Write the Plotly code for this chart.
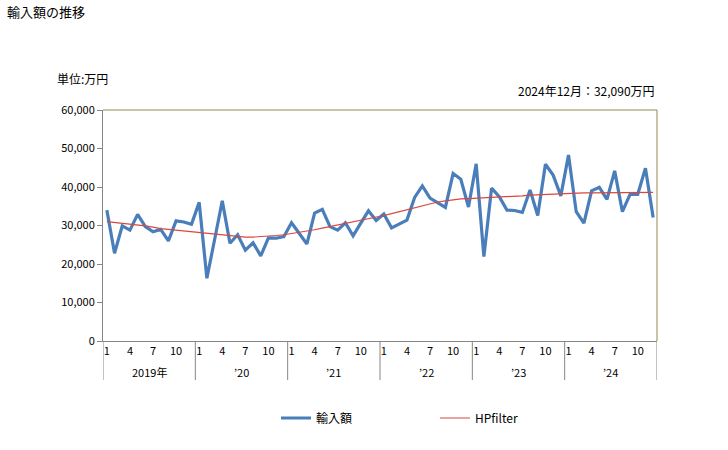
import plotly.graph_objects as go

# ---- data (万円) ----
years = ["2019年", "’20", "’21", "’22", "’23", "’24"]
months = list(range(1, 13))
month_tick_labels = ["1", "4", "7", "10"]

imports = [
    34000, 22800, 29900, 28800, 32900, 29700, 28400, 29000, 26000, 31200, 30900, 30300,
    36000, 16300, 26300, 36400, 25400, 27600, 23600, 25500, 22100, 26800, 26700, 27100,
    30700, 28000, 25200, 33200, 34200, 29700, 28800, 30700, 27300, 30600, 33800, 31300,
    33000, 29400, 30400, 31400, 37300, 40300, 37100, 35900, 34700, 43500, 42000, 34800,
    46000, 21900, 39700, 37500, 34000, 33900, 33400, 39200, 32600, 45900, 43100, 37700,
    48300, 33600, 30600, 39000, 39900, 36800, 44200, 33600, 38100, 38100, 44900, 32090,
]

hp_trend = [
    31000, 30800, 30600, 30400, 30100, 29900, 29600, 29200, 29000, 28800, 28600, 28300,
    28100, 27900, 27700, 27500, 27300, 27100, 27000, 27000, 27100, 27200, 27400, 27600,
    27900, 28200, 28500, 28900, 29300, 29700, 30100, 30500, 30900, 31300, 31700, 32100,
    32600, 33100, 33600, 34200, 34700, 35200, 35700, 36100, 36400, 36700, 36900, 37000,
    37100, 37100, 37200, 37300, 37500, 37600, 37700, 37900, 38000, 38100, 38200, 38300,
    38400, 38400, 38500, 38500, 38500, 38600, 38600, 38600, 38600, 38600, 38600, 38600,
]

n = len(imports)
xs = list(range(n))

FONT = "Noto Sans CJK JP"
AXIS_GRAY = "#868686"
FRAME = "#8E8A4C"

# plot area in page pixels
PL, PR, PT, PB = 103, 657, 110, 341
PW, PH = PR - PL, PB - PT


def px(x):
    return (x - PL) / PW


def py(y):
    return (PB - y) / PH


fig = go.Figure()
fig.add_trace(go.Scatter(
    x=xs, y=imports, mode="lines", name="輸入額",
    line=dict(color="#4A7EBB", width=3.2),
))
fig.add_trace(go.Scatter(
    x=xs, y=hp_trend, mode="lines", name="HPfilter",
    line=dict(color="#D9473F", width=1.2),
))

tickvals = [i for i in xs if months[i % 12] in (1, 4, 7, 10)]
ticktext = [str(months[i % 12]) for i in tickvals]

fig.update_xaxes(
    range=[-0.5, n - 0.5], tickvals=tickvals, ticktext=ticktext,
    showgrid=False, zeroline=False, showline=True, linecolor=AXIS_GRAY, linewidth=1,
    ticks="", tickfont=dict(family=FONT, size=11, color="#000"),
)
fig.update_yaxes(
    range=[0, 60000], dtick=10000, tickformat=",d",
    showgrid=False, zeroline=False, showline=True, linecolor=AXIS_GRAY, linewidth=1,
    ticks="outside", ticklen=5, tickcolor=AXIS_GRAY,
    tickfont=dict(family=FONT, size=11, color="#000"),
)

shapes = []
shapes.append(dict(type="line", xref="paper", yref="paper", x0=0, x1=1, y0=1, y1=1,
                   line=dict(color=FRAME, width=1)))
shapes.append(dict(type="line", xref="paper", yref="paper", x0=1, x1=1, y0=0, y1=1,
                   line=dict(color=FRAME, width=1)))
for k in range(len(years) + 1):
    shapes.append(dict(type="line", xref="x", yref="paper", x0=k * 12 - 0.5, x1=k * 12 - 0.5,
                       y0=0, y1=py(380), line=dict(color=AXIS_GRAY, width=1)))

annotations = []
for k, yl in enumerate(years):
    annotations.append(dict(x=k * 12 + 5.5, y=py(372), xref="x", yref="paper", text=yl,
                            showarrow=False, xanchor="center", yanchor="middle",
                            font=dict(family=FONT, size=11, color="#000")))
annotations.append(dict(x=px(5), y=py(12), xref="paper", yref="paper", text="輸入額の推移",
                        showarrow=False, xanchor="left", yanchor="middle",
                        font=dict(family=FONT, size=13, color="#000")))
annotations.append(dict(x=px(55), y=py(78), xref="paper", yref="paper", text="単位:万円",
                        showarrow=False, xanchor="left", yanchor="middle",
                        font=dict(family=FONT, size=12, color="#000")))
annotations.append(dict(x=1, y=py(90), xref="paper", yref="paper",
                        text="2024年12月：32,090万円",
                        showarrow=False, xanchor="right", yanchor="middle",
                        font=dict(family=FONT, size=12, color="#000")))

fig.update_layout(
    width=728, height=450,
    margin=dict(l=PL, r=728 - PR, t=PT, b=450 - PB),
    paper_bgcolor="white", plot_bgcolor="white",
    shapes=shapes, annotations=annotations,
    showlegend=True,
    legend=dict(orientation="h", x=px(276), y=py(418), xanchor="left", yanchor="middle",
                entrywidth=114, entrywidthmode="pixels",
                font=dict(family=FONT, size=12, color="#000")),
    font=dict(family=FONT),
)

fig.write_html("out.html", config={"displayModeBar": False},
               post_script="document.body.style.margin='0';document.body.style.overflow='hidden';")
